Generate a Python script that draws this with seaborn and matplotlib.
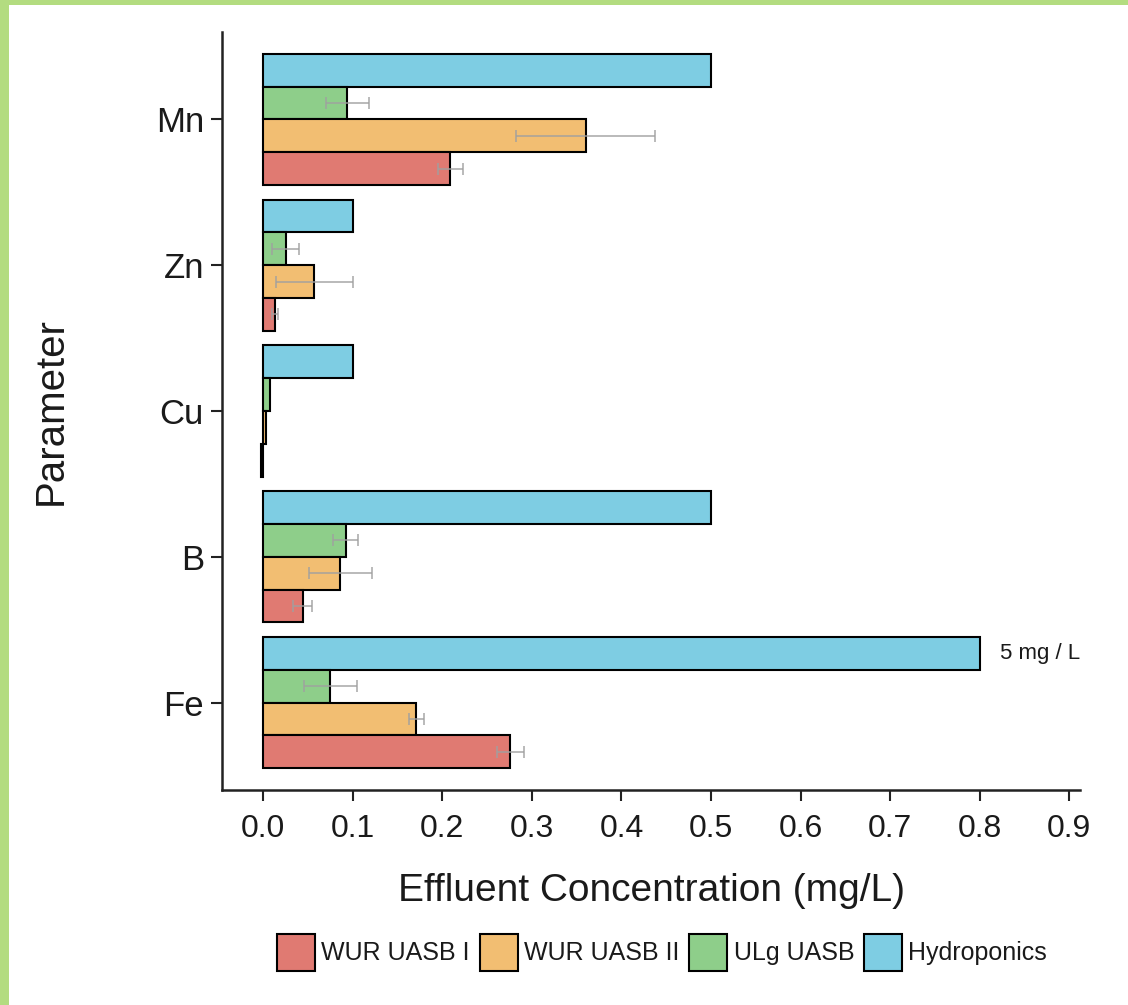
import matplotlib
matplotlib.use("Agg")
import matplotlib.pyplot as plt
from matplotlib import font_manager
from matplotlib.patches import Patch, Rectangle
import seaborn as sns
import pandas as pd

# ---- data ----
parameters = ["Mn", "Zn", "Cu", "B", "Fe"]
systems = ["WUR UASB I", "WUR UASB II", "ULg UASB", "Hydroponics"]
wur1 = [0.209, 0.013, -0.002, 0.044, 0.276]
wur1_err = [0.014, 0.003, 0.0, 0.011, 0.015]
wur2 = [0.360, 0.057, 0.003, 0.086, 0.171]
wur2_err = [0.078, 0.043, 0.0, 0.035, 0.008]
ulg = [0.094, 0.025, 0.008, 0.092, 0.075]
ulg_err = [0.024, 0.015, 0.0, 0.014, 0.030]
hydro = [0.5, 0.1, 0.1, 0.5, 0.8]
hydro_err = [0.0, 0.0, 0.0, 0.0, 0.0]
x_ticks = [0.0, 0.1, 0.2, 0.3, 0.4, 0.5, 0.6, 0.7, 0.8, 0.9]
colors = {"WUR UASB I": "#E07A72", "WUR UASB II": "#F2BE72",
          "ULg UASB": "#8ECE8A", "Hydroponics": "#7ECDE3"}

values = {"WUR UASB I": wur1, "WUR UASB II": wur2, "ULg UASB": ulg, "Hydroponics": hydro}
errors = {"WUR UASB I": wur1_err, "WUR UASB II": wur2_err, "ULg UASB": ulg_err, "Hydroponics": hydro_err}
rows = []
for s in systems:
    for p, v in zip(parameters, values[s]):
        rows.append({"Parameter": p, "System": s, "Value": v})
df = pd.DataFrame(rows)

sns.set_theme(style="white")
def has_font(name):
    try:
        font_manager.findfont(name, fallback_to_default=False)
        return True
    except Exception:
        return False
base = "Liberation Sans" if has_font("Liberation Sans") else "DejaVu Sans"
plt.rcParams["font.family"] = [base, "DejaVu Sans"]
txt = "#1a1a1a"

fig = plt.figure(figsize=(11.28, 10.05), dpi=100, facecolor="white")
ax = fig.add_axes([222/1128, 1-790/1005, (1080-222)/1128, (790-32)/1005])

hue_order = ["Hydroponics", "ULg UASB", "WUR UASB II", "WUR UASB I"]
sns.barplot(data=df, y="Parameter", x="Value", hue="System", order=parameters,
            hue_order=hue_order, palette=colors, orient="h", width=0.9,
            errorbar=None, edgecolor="black", linewidth=1.5, ax=ax, legend=False,
            saturation=1)

for cont, s in zip(ax.containers, hue_order):
    for bar, err in zip(cont, errors[s]):
        if err > 0:
            yc = bar.get_y() + bar.get_height() / 2
            ax.errorbar(bar.get_width(), yc, xerr=err, fmt="none",
                        ecolor="#a0a0a0", elinewidth=1.2, capsize=4, capthick=1.2,
                        alpha=0.85, zorder=5)

# annotation on the Fe hydroponics bar
hcont = ax.containers[hue_order.index("Hydroponics")]
fe_bar = hcont[parameters.index("Fe")]
ax.text(fe_bar.get_width() + 0.0225, fe_bar.get_y() + fe_bar.get_height()/2,
        "5 mg / L", fontsize=16, va="center", ha="left", color=txt)

ax.set_xlim(-0.046, 0.912)
ax.set_ylim(4.6, -0.6)
ax.set_xticks(x_ticks)
ax.set_xticklabels([f"{t:.1f}" for t in x_ticks], fontsize=23, color=txt)
ax.set_yticks(range(len(parameters)))
ax.set_yticklabels(parameters, fontsize=25, color=txt)
ax.tick_params(axis="both", which="both", direction="out", length=8, width=1.5,
               color="#222222", left=True, bottom=True)
ax.tick_params(axis="y", pad=5)
ax.tick_params(axis="x", pad=9)
for sp in ["top", "right"]:
    ax.spines[sp].set_visible(False)
for sp in ["left", "bottom"]:
    ax.spines[sp].set_color("#222222")
    ax.spines[sp].set_linewidth(1.8)
ax.set_xlabel("Effluent Concentration (mg/L)", fontsize=28, color=txt, labelpad=21)
ax.set_ylabel("Parameter", fontsize=29, color=txt, labelpad=62)

handles = [Patch(facecolor=colors[s], edgecolor="black", linewidth=1.5, label=s) for s in systems]
fig.legend(handles=handles, loc="center", bbox_to_anchor=(662/1128, 1-952/1005), ncol=4,
           frameon=False, handlelength=1.52, handleheight=1.9, handletextpad=0.25,
           columnspacing=0.4, prop={"size": 18}, labelcolor=txt)

# decorative green border
fig.patches.append(Rectangle((0, 1-5/1005), 1, 5/1005, transform=fig.transFigure,
                             facecolor="#B3DC80", edgecolor="none", zorder=-1))
fig.patches.append(Rectangle((0, 0), 9/1128, 1, transform=fig.transFigure,
                             facecolor="#B3DC80", edgecolor="none", zorder=-1))

fig.savefig("out.png", dpi=100, facecolor="white")
